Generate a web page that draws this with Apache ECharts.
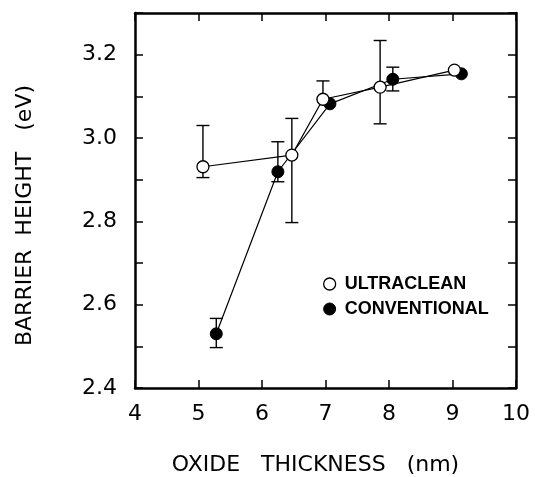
<!DOCTYPE html>
<html><head><meta charset="utf-8">
<script src="https://cdn.jsdelivr.net/npm/echarts@6/dist/echarts.min.js"></script>
<style>html,body{margin:0;padding:0;background:#fff}#c{width:535px;height:477px}</style>
</head><body><div id="c"></div>
<script>
// Data
var ultracleanX = [5.07, 6.47, 6.96, 7.86, 9.03];
var ultracleanY = [2.931, 2.959, 3.093, 3.122, 3.163];
var ultracleanLow = [2.905, 2.797, 3.093, 3.034, 3.163];
var ultracleanHigh = [3.030, 3.047, 3.137, 3.234, 3.163];

var conventionalX = [5.28, 6.25, 7.07, 8.06, 9.14];
var conventionalY = [2.530, 2.919, 3.082, 3.141, 3.154];
var conventionalLow = [2.497, 2.895, 3.082, 3.113, 3.154];
var conventionalHigh = [2.567, 2.991, 3.082, 3.170, 3.154];

var xTicks = [4, 5, 6, 7, 8, 9, 10];
var yTickLabels = ['2.4', '2.6', '2.8', '3.0', '3.2'];

function pairs(xs, ys) { return xs.map(function (x, i) { return [x, ys[i]]; }); }
function bars(xs, lo, hi) { return xs.map(function (x, i) { return [x, lo[i], hi[i]]; }).filter(function (d) { return d[2] - d[1] > 0.001; }); }

function errRender(params, api) {
  var x = api.value(0), lo = api.value(1), hi = api.value(2);
  var pLo = api.coord([x, lo]), pHi = api.coord([x, hi]);
  var w = 6.5;
  var st = { stroke: '#000', lineWidth: 1.4 };
  return { type: 'group', children: [
    { type: 'line', shape: { x1: pLo[0], y1: pLo[1], x2: pHi[0], y2: pHi[1] }, style: st },
    { type: 'line', shape: { x1: pLo[0] - w, y1: pLo[1], x2: pLo[0] + w, y2: pLo[1] }, style: st },
    { type: 'line', shape: { x1: pHi[0] - w, y1: pHi[1], x2: pHi[0] + w, y2: pHi[1] }, style: st }
  ] };
}

var font = 'DejaVu Sans, Verdana, sans-serif';
var legFont = 'Liberation Sans, Arial, Helvetica, sans-serif';
var tickStyle = { show: true, inside: true, length: 8, lineStyle: { color: '#000', width: 1.5 } };
var lineAx = { show: true, lineStyle: { color: '#000', width: 2.5 } };

var chart = echarts.init(document.getElementById('c'));
chart.setOption({
  animation: false,
  backgroundColor: '#fff',
  grid: { left: 135, right: 19, top: 13, bottom: 89, containLabel: false, outerBoundsMode: 'none' },
  legend: {
    orient: 'vertical', left: 318, top: 270, itemGap: 7,
    itemWidth: 12, itemHeight: 12,
    textStyle: { fontFamily: legFont, fontSize: 18, color: '#000', fontWeight: 'bold', padding: [0, 0, 0, 4] },
    data: [
      { name: 'ULTRACLEAN', icon: 'circle', itemStyle: { color: '#fff', borderColor: '#000', borderWidth: 1.3 } },
      { name: 'CONVENTIONAL', icon: 'circle', itemStyle: { color: '#000', borderColor: '#000', borderWidth: 1 } }
    ]
  },
  xAxis: [
    { type: 'value', position: 'bottom', min: 4, max: 10, interval: 1,
      axisLine: lineAx, axisTick: tickStyle, splitLine: { show: false },
      axisLabel: { margin: 15, fontFamily: font, fontSize: 22, color: '#000',
        formatter: function (v) { return xTicks.indexOf(v) >= 0 ? String(v) : ''; } },
      name: 'OXIDE   THICKNESS   (nm)', nameLocation: 'middle', nameGap: 66,
      nameTextStyle: { fontFamily: font, fontSize: 22, color: '#000', padding: [0, 20, 0, 0] } },
    { type: 'value', position: 'top', min: 4, max: 10, interval: 1,
      axisLine: lineAx, axisTick: tickStyle, axisLabel: { show: false }, splitLine: { show: false } }
  ],
  yAxis: [
    { type: 'value', position: 'left', min: 2.4, max: 3.3, interval: 0.1,
      axisLine: lineAx, axisTick: tickStyle, splitLine: { show: false },
      axisLabel: { margin: 18, fontFamily: font, fontSize: 22, color: '#000',
        formatter: function (v) { var s = v.toFixed(1); return yTickLabels.indexOf(s) >= 0 ? s : ''; } },
      name: 'BARRIER  HEIGHT   (eV)', nameLocation: 'middle', nameGap: 99, nameRotate: 90,
      nameTextStyle: { fontFamily: font, fontSize: 22, color: '#000', padding: [0, 30, 0, 0] } },
    { type: 'value', position: 'right', min: 2.4, max: 3.3, interval: 0.1,
      axisLine: lineAx, axisTick: tickStyle, axisLabel: { show: false }, splitLine: { show: false } }
  ],
  series: [
    { name: 'ULTRACLEAN-err', type: 'custom', renderItem: errRender, data: bars(ultracleanX, ultracleanLow, ultracleanHigh), z: 1 },
    { name: 'CONVENTIONAL-err', type: 'custom', renderItem: errRender, data: bars(conventionalX, conventionalLow, conventionalHigh), z: 1 },
    { name: 'ULTRACLEAN', type: 'line', data: pairs(ultracleanX, ultracleanY), symbol: 'circle', symbolSize: 12,
      lineStyle: { color: '#000', width: 1.2 }, itemStyle: { color: '#fff', borderColor: '#000', borderWidth: 1.3 }, z: 3 },
    { name: 'CONVENTIONAL', type: 'line', data: pairs(conventionalX, conventionalY), symbol: 'circle', symbolSize: 12,
      lineStyle: { color: '#000', width: 1.2 }, itemStyle: { color: '#000', borderColor: '#000', borderWidth: 1 }, z: 2 }
  ]
});
</script></body></html>
